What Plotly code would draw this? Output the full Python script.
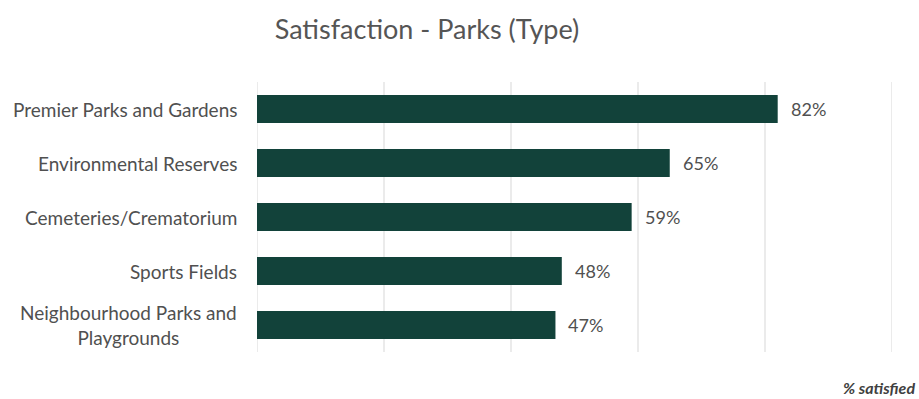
import plotly.graph_objects as go

# Satisfaction by park type (% satisfied)
categories = [
    "Premier Parks and Gardens",
    "Environmental Reserves",
    "Cemeteries/Crematorium",
    "Sports Fields",
    "Neighbourhood Parks and Playgrounds",
]
category_labels = [
    "Premier Parks and Gardens",
    "Environmental Reserves",
    "Cemeteries/Crematorium",
    "Sports Fields",
    "Neighbourhood Parks and<br>Playgrounds",
]
values = [82, 65, 59, 48, 47]
value_labels = [f"{v}%" for v in values]
grid_ticks = [0, 20, 40, 60, 80, 100]

BAR_COLOR = "#12423a"
TEXT_COLOR = "#505050"
GRID_COLOR = "#e4e4e4"
FONT = "Lato, sans-serif"

fig = go.Figure(
    go.Bar(
        x=values,
        y=categories,
        orientation="h",
        marker=dict(color=BAR_COLOR, line=dict(width=0)),
        width=0.52,
        hoverinfo="x+y",
    )
)

# Vertical grid lines, including the one at the right edge
for t in grid_ticks:
    fig.add_shape(
        type="line", xref="x", yref="paper", x0=t, x1=t, y0=0, y1=1,
        line=dict(color=GRID_COLOR, width=1.5), layer="below",
    )

# Category labels, centred line by line for wrapped names
for cat, lab in zip(categories, category_labels):
    fig.add_annotation(
        xref="paper", x=0, y=cat, text=lab, showarrow=False,
        xanchor="right", xshift=-18, align="center",
        font=dict(family=FONT, size=19, color=TEXT_COLOR),
    )

# Value labels just past the bar ends
for cat, v, lab in zip(categories, values, value_labels):
    fig.add_annotation(
        x=v, y=cat, text=lab, showarrow=False,
        xanchor="left", xshift=11,
        font=dict(family=FONT, size=18, color=TEXT_COLOR),
    )

fig.add_annotation(
    xref="paper", yref="paper", x=1.04, y=-0.09,
    xanchor="right", yanchor="top", showarrow=False,
    text="<b><i>% satisfied</i></b>",
    font=dict(family=FONT, size=16, color="#404040"),
)

fig.update_layout(
    width=919, height=399,
    margin=dict(l=257, r=27, t=82, b=47),
    paper_bgcolor="white", plot_bgcolor="white",
    title=dict(
        text="Satisfaction - Parks (Type)",
        x=427 / 919, xanchor="center", y=0.925, yanchor="middle",
        font=dict(family=FONT, size=27, color="#555555"),
    ),
    xaxis=dict(
        range=[0, 100], showticklabels=False, showgrid=False,
        zeroline=False, fixedrange=True,
    ),
    yaxis=dict(
        categoryorder="array", categoryarray=categories[::-1],
        showgrid=False, ticks="", showticklabels=False, fixedrange=True,
    ),
    bargap=0.48,
    showlegend=False,
)

fig.write_html("out.html")
